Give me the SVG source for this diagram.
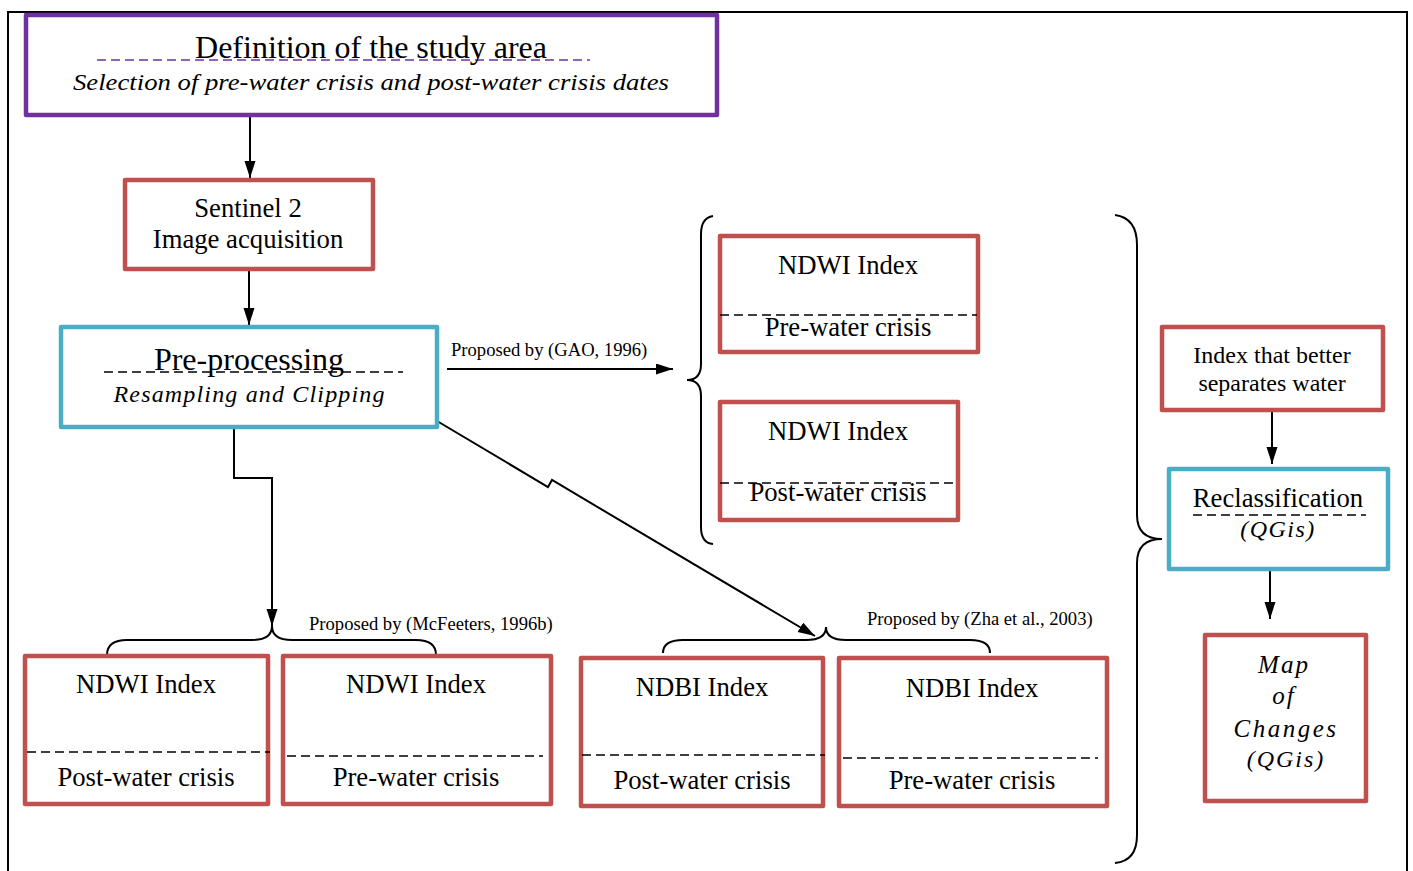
<svg xmlns="http://www.w3.org/2000/svg" width="1413" height="871" viewBox="0 0 1413 871">
<style>
.box{fill:#fff;stroke-width:4.5;stroke-linejoin:round}
.red{stroke:#c0504d}
.cyan{stroke:#4bacc6}
.purple{stroke:#7030a0}
.t{font-family:"Liberation Serif","Times New Roman",serif;fill:#000;text-anchor:middle}
.b{font-size:26.7px}
.it{font-style:italic}
.dash{stroke:#000;stroke-width:1.5;stroke-dasharray:9,5;fill:none}
.conn{stroke:#000;stroke-width:2;fill:none}
.brace{stroke:#000;stroke-width:2;fill:none}
.lbl{font-family:"Liberation Serif","Times New Roman",serif;font-size:18.6px;fill:#000}
</style>
<defs>
<marker id="ah" markerUnits="userSpaceOnUse" markerWidth="18" markerHeight="12" refX="17" refY="5.5" orient="auto">
<path d="M0,0 L17,5.5 L0,11 z" fill="#000"/>
</marker>
</defs>
<rect width="1413" height="871" fill="#fff"/>
<path d="M8,871 L8,12 L1407,12 L1407,871" fill="none" stroke="#000" stroke-width="2"/>

<g id="connectors">
<line class="conn" x1="250" y1="116" x2="250" y2="178" marker-end="url(#ah)"/>
<line class="conn" x1="249" y1="270" x2="249" y2="325" marker-end="url(#ah)"/>
<path class="conn" d="M234,428 L234,478 L272,478 L272,626" marker-end="url(#ah)"/>
<line class="conn" x1="447" y1="369" x2="673" y2="369" marker-end="url(#ah)"/>
<text class="lbl" x="451" y="356">Proposed by (GAO, 1996)</text>
<path class="conn" d="M437,421 L548,487 L552,480 L815,636" marker-end="url(#ah)"/>
<line class="conn" x1="1272" y1="411" x2="1272" y2="464" marker-end="url(#ah)"/>
<line class="conn" x1="1270" y1="570" x2="1270" y2="619" marker-end="url(#ah)"/>
<path class="brace" d="M107,655 Q107,640 127,640 L252,640 Q272,640 272,626 Q272,640 292,640 L416,640 Q436,640 436,655"/>
<text class="lbl" x="309" y="630">Proposed by (McFeeters, 1996b)</text>
<path class="brace" d="M663,653 Q663,640 683,640 L806,640 Q826,640 826,627 Q826,640 846,640 L970,640 Q990,640 990,653"/>
<text class="lbl" x="867" y="625">Proposed by (Zha et al., 2003)</text>
<path class="brace" d="M713,216 Q701,218 701,234 L701,364 Q701,380 687,380 Q701,380 701,396 L701,527 Q701,543 713,544"/>
<path class="brace" d="M1115,215 Q1137,218 1137,245 L1137,515 Q1137,539 1162,539 Q1137,539 1137,563 L1137,835 Q1137,861 1115,863"/>
</g>

<g id="study-area">
<rect class="box purple" x="26" y="15" width="691" height="100"/>
<line x1="97" y1="60" x2="590" y2="60" stroke="#7030a0" stroke-width="1.5" stroke-dasharray="9,5"/>
<text class="t" x="371" y="58" font-size="32">Definition of the study area</text>
<text class="t it" x="371" y="90" font-size="24" textLength="596" lengthAdjust="spacingAndGlyphs">Selection of pre-water crisis and post-water crisis dates</text>
</g>

<g id="sentinel">
<rect class="box red" x="125" y="180" width="248" height="89"/>
<text class="t b" x="248" y="217">Sentinel 2</text>
<text class="t b" x="248" y="248">Image acquisition</text>
</g>

<g id="preprocessing">
<rect class="box cyan" x="61" y="327" width="376" height="100"/>
<line class="dash" x1="104" y1="372" x2="403" y2="372"/>
<text class="t" x="249" y="370" font-size="32">Pre-processing</text>
<text class="t it" x="249" y="402" font-size="24" textLength="271" lengthAdjust="spacing">Resampling and Clipping</text>
</g>

<g id="ndwi-pre-gao">
<rect class="box red" x="720" y="236" width="258" height="116"/>
<line class="dash" x1="720" y1="315" x2="977" y2="315"/>
<text class="t b" x="848" y="274">NDWI Index</text>
<text class="t b" x="848" y="336">Pre-water crisis</text>
</g>

<g id="ndwi-post-gao">
<rect class="box red" x="720" y="402" width="238" height="118"/>
<line class="dash" x1="720" y1="483" x2="957" y2="483"/>
<text class="t b" x="838" y="440">NDWI Index</text>
<text class="t b" x="838" y="501">Post-water crisis</text>
</g>

<g id="ndwi-post-mcf">
<rect class="box red" x="25" y="656" width="243" height="148"/>
<line class="dash" x1="27" y1="752" x2="270" y2="752"/>
<text class="t b" x="146" y="693">NDWI Index</text>
<text class="t b" x="146" y="786">Post-water crisis</text>
</g>

<g id="ndwi-pre-mcf">
<rect class="box red" x="283" y="656" width="268" height="148"/>
<line class="dash" x1="287" y1="756" x2="543" y2="756"/>
<text class="t b" x="416" y="693">NDWI Index</text>
<text class="t b" x="416" y="786">Pre-water crisis</text>
</g>

<g id="ndbi-post">
<rect class="box red" x="581" y="658" width="242" height="148"/>
<line class="dash" x1="582" y1="755" x2="825" y2="755"/>
<text class="t b" x="702" y="696">NDBI Index</text>
<text class="t b" x="702" y="789">Post-water crisis</text>
</g>

<g id="ndbi-pre">
<rect class="box red" x="839" y="658" width="268" height="148"/>
<line class="dash" x1="843" y1="758" x2="1098" y2="758"/>
<text class="t b" x="972" y="697">NDBI Index</text>
<text class="t b" x="972" y="789">Pre-water crisis</text>
</g>

<g id="best-index">
<rect class="box red" x="1162" y="327" width="221" height="83"/>
<text class="t" x="1272" y="363" font-size="24">Index that better</text>
<text class="t" x="1272" y="391" font-size="24">separates water</text>
</g>

<g id="reclassification">
<rect class="box cyan" x="1169" y="469" width="219" height="100"/>
<line class="dash" x1="1193" y1="515" x2="1366" y2="515"/>
<text class="t b" x="1278" y="507">Reclassification</text>
<text class="t it" x="1278" y="537" font-size="24" letter-spacing="1.5">(QGis)</text>
</g>

<g id="map-changes">
<rect class="box red" x="1205" y="635" width="161" height="166"/>
<text class="t it" x="1284" y="673" font-size="25" letter-spacing="2">Map</text>
<text class="t it" x="1284" y="704" font-size="25" letter-spacing="2">of</text>
<text class="t it" x="1286" y="737" font-size="25" letter-spacing="2.5">Changes</text>
<text class="t it" x="1286" y="767" font-size="24" letter-spacing="2">(QGis)</text>
</g>
</svg>
